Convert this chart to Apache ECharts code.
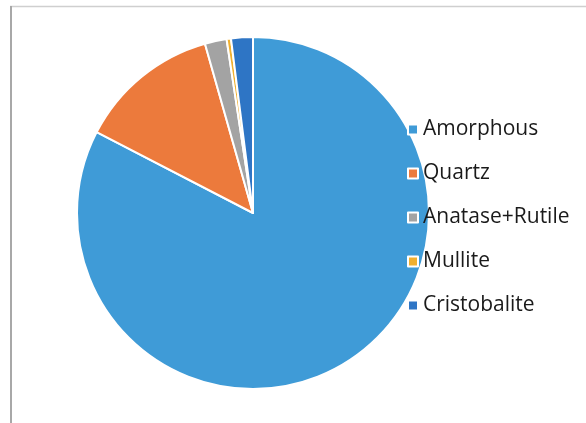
<!DOCTYPE html>
<html><head><meta charset="utf-8">
<script src="https://cdn.jsdelivr.net/npm/echarts@6/dist/echarts.min.js"></script>
<style>html,body{margin:0;padding:0;background:#fff;}#c{width:586px;height:423px;}</style>
</head><body><div id="c"></div>
<script>
const categories = ['Amorphous', 'Quartz', 'Anatase+Rutile', 'Mullite', 'Cristobalite'];
const values = [82.6, 13.0, 2.0, 0.4, 2.0];
const colors = ['#3f9bd7', '#ec7a3c', '#a3a3a3', '#f0b030', '#2e75c5'];

const chart = echarts.init(document.getElementById('c'));
chart.setOption({
  animation: false,
  color: colors,
  graphic: [
    { type: 'line', shape: { x1: 10, y1: 6.5, x2: 586, y2: 6.5 }, style: { stroke: '#cfcfcf', lineWidth: 1.5 } },
    { type: 'line', shape: { x1: 11, y1: 6, x2: 11, y2: 423 }, style: { stroke: '#a8a8a8', lineWidth: 2 } }
  ],
  legend: {
    orient: 'vertical',
    left: 402,
    top: 113,
    itemWidth: 10,
    itemHeight: 10,
    itemGap: 21,
    icon: 'rect',
    textStyle: { fontFamily: 'Open Sans', fontSize: 21, lineHeight: 23, color: '#1a1a1a', padding: [0, 0, 0, 0] },
    data: categories
  },
  series: [{
    type: 'pie',
    center: [253, 213],
    radius: [0, 176],
    startAngle: 90,
    clockwise: true,
    label: { show: false },
    labelLine: { show: false },
    itemStyle: { borderColor: '#fff', borderWidth: 2 },
    data: categories.map((n, i) => ({ name: n, value: values[i] }))
  }]
});
</script></body></html>
